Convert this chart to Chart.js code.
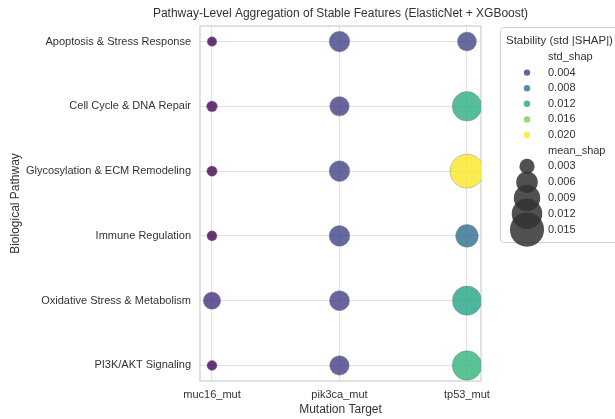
<!DOCTYPE html>
<html>
<head>
<meta charset="utf-8">
<script src="https://cdn.jsdelivr.net/npm/chart.js@4/dist/chart.umd.min.js"></script>
<style>
  html, body { margin: 0; padding: 0; background: #ffffff; }
  #wrap { width: 615px; height: 419px; position: relative; }
</style>
</head>
<body>
<div id="wrap"><canvas id="c" width="615" height="419"></canvas></div>
<script>
// Pathways (rows) and mutation targets (columns)
const pathways = [
  'Apoptosis & Stress Response',
  'Cell Cycle & DNA Repair',
  'Glycosylation & ECM Remodeling',
  'Immune Regulation',
  'Oxidative Stress & Metabolism',
  'PI3K/AKT Signaling'
];
const targets = ['muc16_mut', 'pik3ca_mut', 'tp53_mut'];

// mean |SHAP| per pathway, one array per target (bubble size)
const muc16Mean  = [0.0012, 0.0015, 0.0014, 0.0013, 0.0039, 0.0013];
const pik3caMean = [0.0055, 0.0049, 0.0055, 0.0055, 0.0052, 0.0049];
const tp53Mean   = [0.0047, 0.0112, 0.0148, 0.0066, 0.0110, 0.0112];

// std |SHAP| per pathway, one array per target (bubble colour)
const muc16Std  = [0.0004, 0.0005, 0.0004, 0.0003, 0.0030, 0.0005];
const pik3caStd = [0.0041, 0.0038, 0.0041, 0.0041, 0.0040, 0.0039];
const tp53Std   = [0.0042, 0.0125, 0.0199, 0.0073, 0.0117, 0.0130];

// Legend entries
const stdLegendTicks  = [0.004, 0.008, 0.012, 0.016, 0.020];
const meanLegendTicks = [0.003, 0.006, 0.009, 0.012, 0.015];

const FONT = '"Liberation Sans", Arial, Helvetica, sans-serif';
const TEXT = '#333333';
const ALPHA = 0.8;

const viridisStops = [
  [68, 1, 84], [72, 36, 117], [65, 68, 135], [53, 95, 141], [42, 120, 142],
  [33, 145, 140], [34, 168, 132], [68, 191, 112], [122, 209, 81], [189, 223, 38], [253, 231, 37]
];
function viridis(t, a) {
  t = Math.max(0, Math.min(1, t));
  const p = t * (viridisStops.length - 1);
  const i = Math.min(Math.floor(p), viridisStops.length - 2);
  const f = p - i;
  const c0 = viridisStops[i], c1 = viridisStops[i + 1];
  const c = c0.map((v, k) => Math.round(v + (c1[k] - v) * f));
  return `rgba(${c[0]},${c[1]},${c[2]},${a})`;
}

const allStd = muc16Std.concat(pik3caStd, tp53Std);
const stdMin = Math.min(...allStd), stdMax = Math.max(...allStd);
const colorFor = (s, a = ALPHA) => viridis((s - stdMin) / (stdMax - stdMin), a);
// bubble area grows linearly with mean |SHAP|
const radiusFor = m => Math.sqrt(19400 * m);

const columns = [
  { mean: muc16Mean, std: muc16Std },
  { mean: pik3caMean, std: pik3caStd },
  { mean: tp53Mean, std: tp53Std }
];
const points = [];
columns.forEach((col, xi) => {
  pathways.forEach((p, yi) => {
    points.push({ x: xi, y: yi, r: radiusFor(col.mean[yi]), s: col.std[yi] });
  });
});

// Frame around the plotting area
const framePlugin = {
  id: 'frame',
  beforeDatasetsDraw(chart) {
    const { ctx, chartArea: a } = chart;
    ctx.save();
    ctx.strokeStyle = '#d4d4d4';
    ctx.lineWidth = 1.4;
    ctx.strokeRect(a.left, a.top, a.right - a.left, a.bottom - a.top);
    ctx.restore();
  }
};

// Title and combined colour / size legend
const decorPlugin = {
  id: 'decor',
  afterDraw(chart) {
    const { ctx, chartArea: a } = chart;
    ctx.save();
    ctx.fillStyle = TEXT;
    ctx.font = `12px ${FONT}`;
    ctx.textAlign = 'center';
    ctx.textBaseline = 'middle';
    ctx.fillText('Pathway-Level Aggregation of Stable Features (ElasticNet + XGBoost)', (a.left + a.right) / 2, 14);

    // legend box
    const bx = 500.5, by = 27.5, bw = 130, bh = 215;
    ctx.fillStyle = 'rgba(255,255,255,0.8)';
    ctx.strokeStyle = '#d0d0d0';
    ctx.lineWidth = 1;
    ctx.beginPath();
    ctx.roundRect(bx, by, bw, bh, 3);
    ctx.fill();
    ctx.stroke();

    ctx.fillStyle = TEXT;
    ctx.textAlign = 'left';
    ctx.font = `11.5px ${FONT}`;
    ctx.fillText('Stability (std |SHAP|)', 506, 41);

    ctx.font = `11px ${FONT}`;
    const mx = 527, tx = 548;
    let y = 57;
    ctx.fillText('std_shap', tx, y);
    stdLegendTicks.forEach(v => {
      y += 15.6;
      ctx.fillStyle = colorFor(v);
      ctx.beginPath(); ctx.arc(mx, y, 3.2, 0, Math.PI * 2); ctx.fill();
      ctx.fillStyle = TEXT;
      ctx.fillText(v.toFixed(3), tx, y);
    });
    y += 15.6;
    ctx.fillText('mean_shap', tx, y);
    meanLegendTicks.forEach(v => {
      y += 15.8;
      ctx.fillStyle = 'rgba(51,51,51,0.85)';
      ctx.beginPath(); ctx.arc(mx, y, radiusFor(v), 0, Math.PI * 2); ctx.fill();
      ctx.fillStyle = TEXT;
      ctx.fillText(v.toFixed(3), tx, y);
    });
    ctx.restore();
  }
};

new Chart(document.getElementById('c'), {
  type: 'bubble',
  data: {
    datasets: [{
      data: points,
      clip: 0,
      backgroundColor: ctx => colorFor(ctx.raw.s),
      borderColor: 'rgba(130,130,130,0.55)',
      borderWidth: 0.8,
      hoverRadius: 0
    }]
  },
  options: {
    responsive: false,
    animation: false,
    events: [],
    layout: { padding: { top: 26, right: 134, left: 0, bottom: 0 } },
    plugins: { legend: { display: false }, tooltip: { enabled: false }, title: { display: false } },
    scales: {
      x: {
        type: 'linear',
        min: -0.094, max: 2.11,
        afterBuildTicks: s => { s.ticks = targets.map((t, i) => ({ value: i })); },
        afterFit: s => { s.height = 38; },
        ticks: {
          callback: v => targets[v],
          font: { family: FONT, size: 11 }, color: TEXT, padding: 7, maxRotation: 0
        },
        grid: { color: '#e2e2e2', lineWidth: 1, drawTicks: false },
        border: { display: false },
        title: { display: true, text: 'Mutation Target', font: { family: FONT, size: 12 }, color: TEXT, padding: { top: 0, bottom: 2 } }
      },
      y: {
        type: 'linear',
        reverse: true,
        min: -0.24, max: 5.24,
        afterBuildTicks: s => { s.ticks = pathways.map((p, i) => ({ value: i })); },
        afterFit: s => { s.width = 200; },
        ticks: {
          callback: v => pathways[v],
          font: { family: FONT, size: 11 }, color: TEXT, padding: 9
        },
        grid: { color: '#e2e2e2', lineWidth: 1, drawTicks: false },
        border: { display: false },
        title: { display: true, text: 'Biological Pathway', font: { family: FONT, size: 12 }, color: TEXT, padding: { top: 8, bottom: 0 } }
      }
    }
  },
  plugins: [framePlugin, decorPlugin]
});
</script>
</body>
</html>
